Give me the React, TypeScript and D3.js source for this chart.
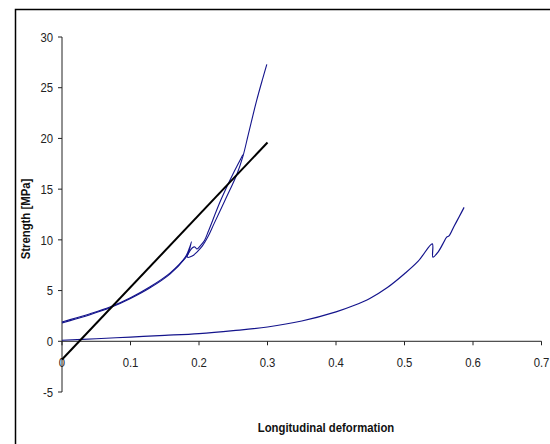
import React from "react";
import * as d3 from "d3";

const xTicks = [0, 0.1, 0.2, 0.3, 0.4, 0.5, 0.6, 0.7];
const yTicks = [-5, 0, 5, 10, 15, 20, 25, 30];

// specimen 1, trace A
const curveA: [number, number][] = [
  [0, 1.9], [0.02, 2.3], [0.04, 2.7], [0.07, 3.38], [0.1, 4.3], [0.128, 5.35],
  [0.158, 6.75], [0.18, 8.3], [0.186, 9.2], [0.189, 9.8], [0.186, 9.0], [0.183, 8.3],
  [0.19, 8.4], [0.197, 8.8], [0.205, 9.4], [0.213, 10.3], [0.222, 11.6], [0.238, 13.9],
  [0.2555, 16.5], [0.264, 18.2], [0.272, 20.4], [0.284, 23.7], [0.293, 25.9], [0.299, 27.3],
];
// specimen 1, trace B
const curveB: [number, number][] = [
  [0, 1.8], [0.02, 2.2], [0.04, 2.6], [0.07, 3.3], [0.1, 4.22], [0.128, 5.25],
  [0.158, 6.65], [0.18, 8.2], [0.19, 9.2], [0.194, 9.3], [0.197, 9.1], [0.203, 9.5],
  [0.208, 9.94], [0.214, 10.9], [0.2317, 13.9], [0.2496, 16.5], [0.258, 17.6],
  [0.264, 18.4],
];
// specimen 2
const curveC: [number, number][] = [
  [0, 0.1], [0.05, 0.25], [0.1, 0.42], [0.15, 0.58], [0.2, 0.76], [0.25, 1.05],
  [0.3, 1.41], [0.35, 2.0], [0.4, 2.9], [0.425, 3.5], [0.45, 4.25], [0.475, 5.3], [0.5, 6.66],
  [0.52, 7.9], [0.5406, 9.6], [0.5415, 8.3], [0.549, 8.8], [0.556, 9.6], [0.5616, 10.27],
  [0.565, 10.4], [0.572, 11.3], [0.58, 12.3], [0.587, 13.2],
];
// linear fit
const fitLine: [number, number][] = [[0, -1.8], [0.3, 19.6]];

const FS = 13.5;
const SX = 0.84;

export default function App() {
  const x = d3.scaleLinear().domain([0, 0.7]).range([62, 541.5]);
  const y = d3.scaleLinear().domain([-5, 30]).range([392, 37]);
  const curve = d3
    .line<[number, number]>()
    .x((d) => x(d[0]))
    .y((d) => y(d[1]))
    .curve(d3.curveCatmullRom.alpha(0.5));
  const straight = d3.line<[number, number]>().x((d) => x(d[0])).y((d) => y(d[1]));
  const blue = "#14148c";
  const font = "'Liberation Sans', Arial, sans-serif";

  return (
    <svg
      width={550}
      height={444}
      style={{ position: "absolute", left: 0, top: 0, background: "#fff" }}
    >
      <rect x={0} y={0} width={550} height={444} fill="#fff" />
      <rect x={15.5} y={9.5} width={600} height={500} fill="none" stroke="#000" strokeWidth={1.5} />

      {/* axes */}
      <line x1={x(0)} x2={x(0)} y1={y(30)} y2={y(-5)} stroke="#222" strokeWidth={1} />
      <line x1={x(0)} x2={x(0.7)} y1={y(0)} y2={y(0)} stroke="#222" strokeWidth={1} />
      {yTicks.map((t) => (
        <g key={"y" + t}>
          <line x1={x(0) - 4} x2={x(0)} y1={y(t)} y2={y(t)} stroke="#222" />
          <text
            transform={`translate(${53},${y(t) + 4.7}) scale(${SX},1)`}
            textAnchor="end"
            fontFamily={font}
            fontSize={FS}
            fill="#222"
          >
            {t}
          </text>
        </g>
      ))}
      {xTicks.map((t) => (
        <g key={"x" + t}>
          <line x1={x(t)} x2={x(t)} y1={y(0)} y2={y(0) + 4} stroke="#222" />
          <text
            transform={`translate(${x(t)},${367}) scale(${SX},1)`}
            textAnchor="middle"
            fontFamily={font}
            fontSize={FS}
            fill="#222"
          >
            {t}
          </text>
        </g>
      ))}

      {/* data */}
      <path d={curve(curveC) || ""} fill="none" stroke={blue} strokeWidth={1.2} />
      <path d={curve(curveB) || ""} fill="none" stroke={blue} strokeWidth={1.1} />
      <path d={curve(curveA) || ""} fill="none" stroke={blue} strokeWidth={1.1} />
      <path d={straight(fitLine) || ""} fill="none" stroke="#000" strokeWidth={2} />

      {/* titles */}
      <text
        transform={`translate(326,432) scale(${SX},1)`}
        textAnchor="middle"
        fontFamily={font}
        fontSize={FS}
        fontWeight="bold"
        fill="#111"
      >
        Longitudinal deformation
      </text>
      <text
        transform={`translate(30,219) rotate(-90) scale(${SX},1)`}
        textAnchor="middle"
        fontFamily={font}
        fontSize={FS}
        fontWeight="bold"
        fill="#111"
      >
        Strength [MPa]
      </text>
    </svg>
  );
}
